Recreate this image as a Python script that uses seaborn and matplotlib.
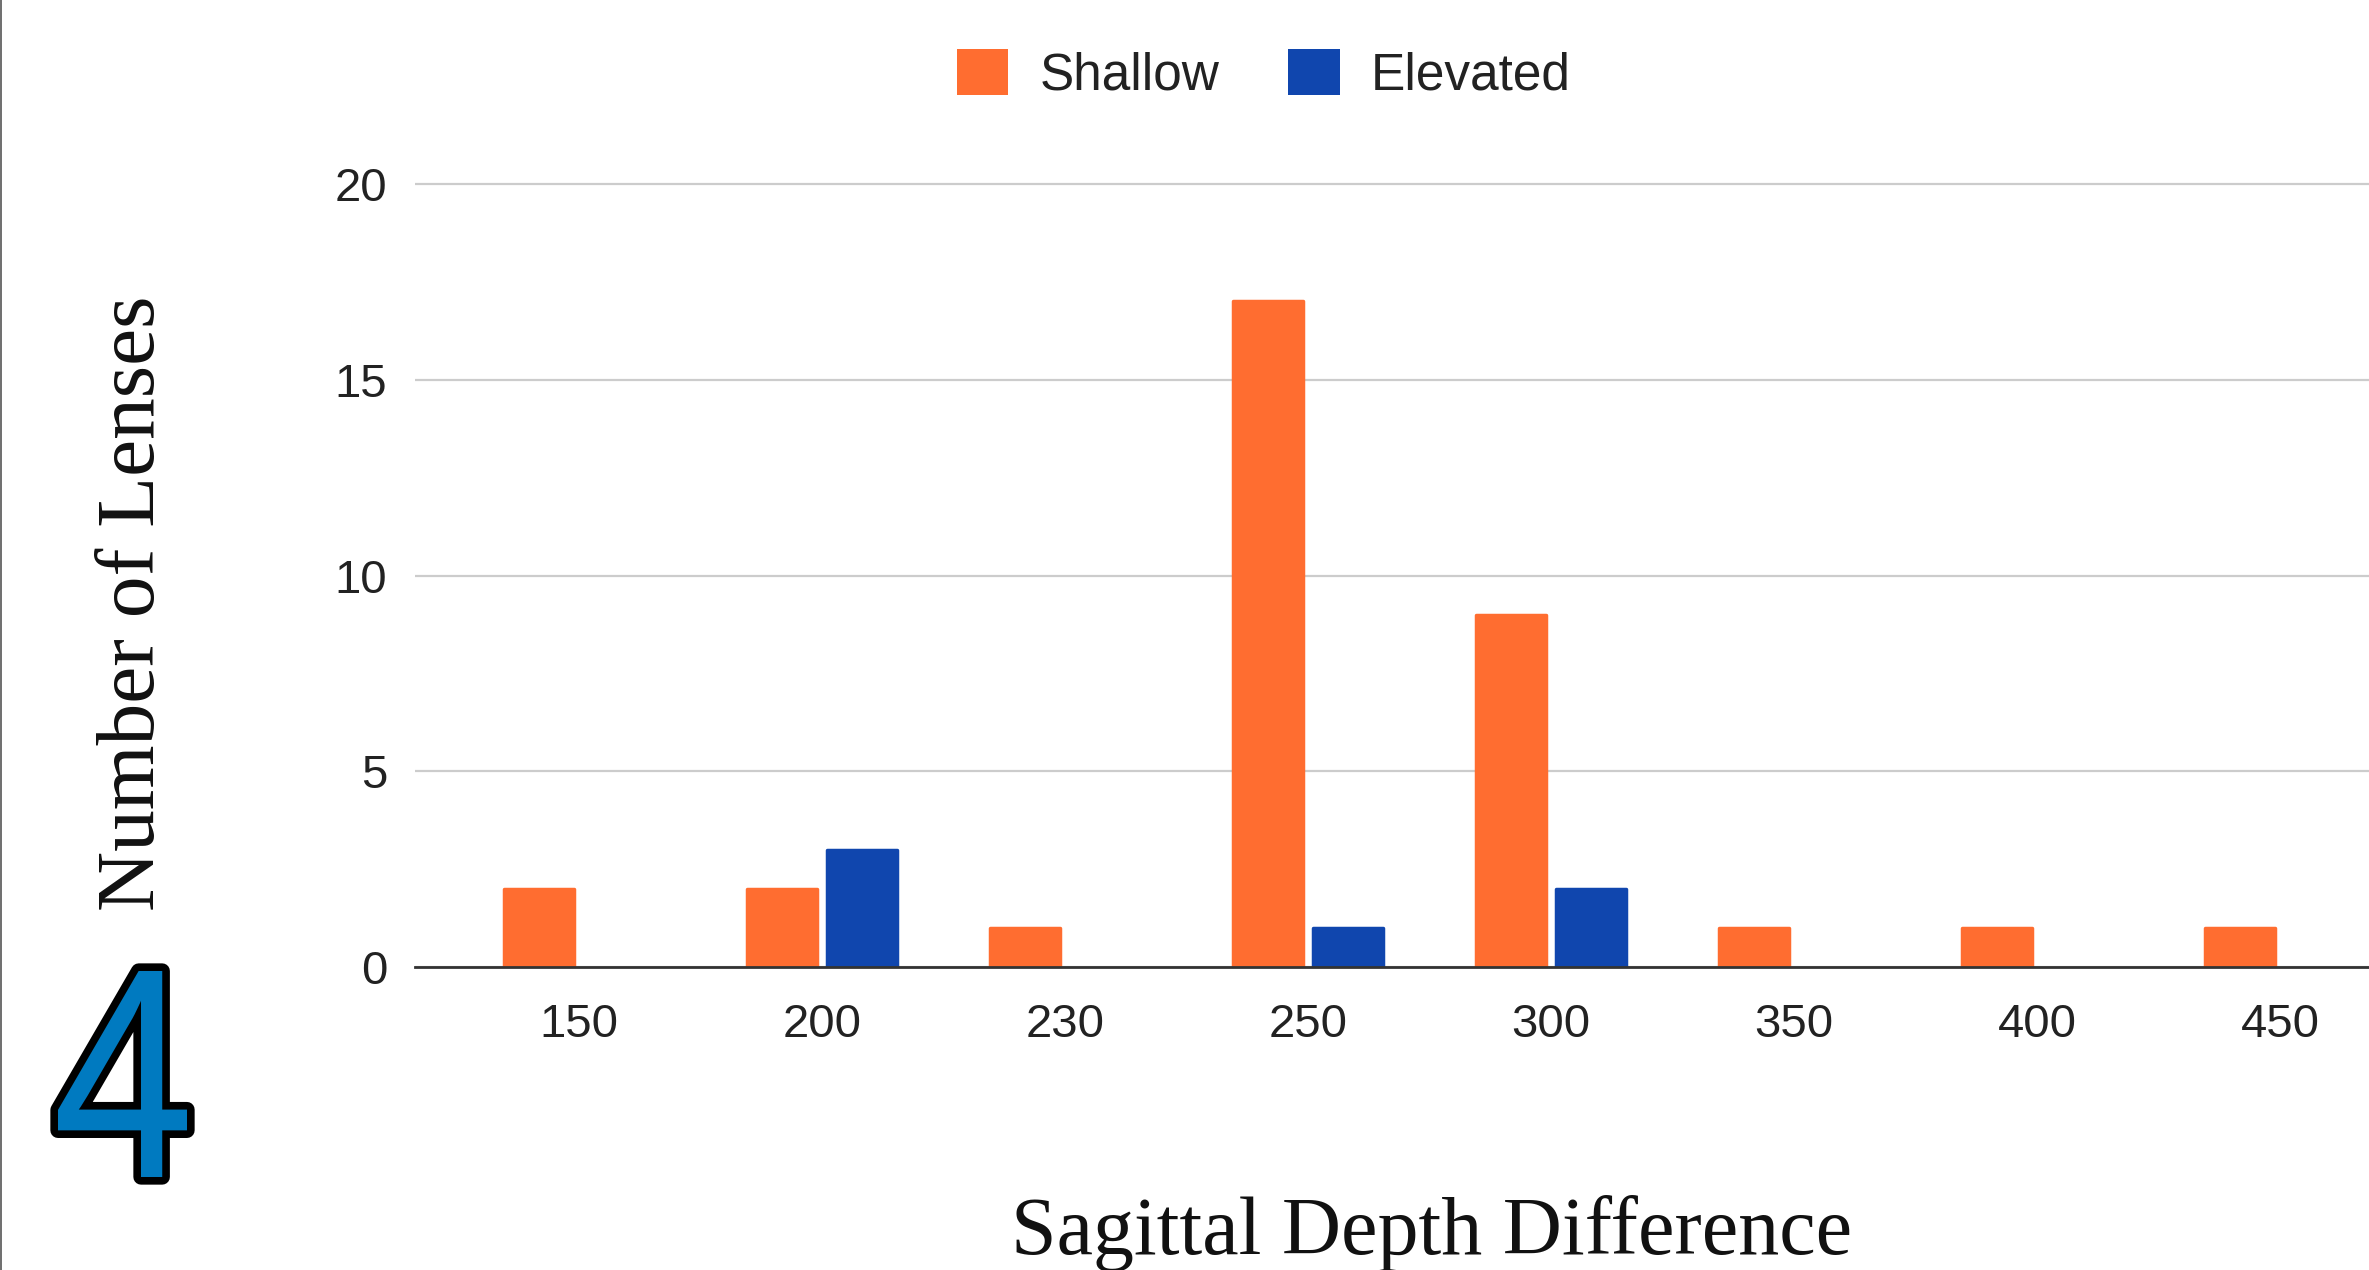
import numpy as np
import pandas as pd
import seaborn as sns
import matplotlib
matplotlib.use("Agg")
import matplotlib.pyplot as plt
import matplotlib.patheffects as pe
from matplotlib.lines import Line2D
from matplotlib.textpath import TextPath
from matplotlib.patches import PathPatch
from matplotlib.font_manager import FontProperties
from matplotlib.transforms import Affine2D

# ---- data ----
categories = ["150", "200", "230", "250", "300", "350", "400", "450"]
shallow = [2, 2, 1, 17, 9, 1, 1, 1]
elevated = [0, 3, 0, 1, 2, 0, 0, 0]
series_names = ["Shallow", "Elevated"]
colors = ["#FF6D30", "#1046AE"]
y_ticks = [0, 5, 10, 15, 20]

df = pd.DataFrame({"Depth": categories, "Shallow": shallow, "Elevated": elevated})
long = df.melt(id_vars="Depth", var_name="Type", value_name="Count")

sns.set_style("white")
plt.rcParams["font.family"] = ["Liberation Sans", "DejaVu Sans"]

W, H = 2369, 1270
fig = plt.figure(figsize=(W / 100, H / 100), dpi=100)
fig.patch.set_facecolor("white")

left_px, right_px = 415, 2369
y0_px, y20_px = 967, 184
ymax = 20.1
ax_h_px = (y0_px - y20_px) * ymax / 20
ax = fig.add_axes([left_px / W, 1 - y0_px / H, (right_px - left_px) / W, ax_h_px / H])

sns.barplot(data=long, x="Depth", y="Count", hue="Type", order=categories,
            hue_order=series_names, palette=colors, width=0.66, gap=0.12,
            saturation=1, errorbar=None, ax=ax, legend=True)

# slightly rounded bar corners
for p in ax.patches:
    if abs(p.get_height()) < 1e-9:
        p.set_linewidth(0)
    else:
        p.set_edgecolor(p.get_facecolor())
        p.set_linewidth(2.5)
        p.set_joinstyle("round")

ax.set_xlim(-0.675, 7.366)
ax.set_ylim(0, ymax)
ax.set_yticks(y_ticks)
ax.set_yticklabels([str(t) for t in y_ticks])
ax.yaxis.grid(True, color="#cccccc", linewidth=1.6)
ax.xaxis.grid(False)
ax.set_axisbelow(True)
for s in ["left", "top", "right"]:
    ax.spines[s].set_visible(False)
ax.spines["bottom"].set_color("#333333")
ax.spines["bottom"].set_linewidth(2)
ax.spines["bottom"].set_zorder(3)

ax.tick_params(axis="y", length=0, pad=20, labelsize=34, labelcolor="#222222")
ax.tick_params(axis="x", length=0, pad=26, labelsize=34, labelcolor="#222222")

serif = ["Liberation Serif", "DejaVu Serif"]
ax.set_xlabel("Sagittal Depth Difference", fontsize=59, family=serif,
              color="#111111", va="center", ha="center")
ax.xaxis.set_label_coords((1432 - left_px) / (right_px - left_px), (y0_px - 1233) / ax_h_px)
ax.set_ylabel("Number of Lenses", fontsize=60, family=serif,
              color="#111111", va="center", ha="center")
ax.yaxis.set_label_coords((134 - left_px) / (right_px - left_px), (y0_px - 603) / ax_h_px)

# legend
handles, labels = ax.get_legend_handles_labels()
ax.legend(handles, labels, loc="center", bbox_to_anchor=(0.5335, 1 - 75 / H),
          bbox_transform=fig.transFigure, ncol=2, frameon=False, fontsize=37,
          handlelength=1.0, handleheight=1.0, handletextpad=0.6,
          columnspacing=1.35, labelcolor="#222222")

# big outlined "4" (glyph outline fitted into its box, in output pixels)
tp = TextPath((0, 0), "4", size=100, prop=FontProperties(family="Liberation Sans"))
ext = tp.get_extents()
gx0, gx1 = 58, 187            # glyph ink box, px from left
gy0, gy1 = H - 1177, H - 971  # glyph ink box, px from bottom
sx = (gx1 - gx0) / ext.width
sy = (gy1 - gy0) / ext.height
tr = Affine2D().translate(-ext.x0, -ext.y0).scale(sx, sy).translate(gx0, gy0)
four = PathPatch(tp, transform=tr, facecolor="#007AC0", edgecolor="none",
                 path_effects=[pe.Stroke(linewidth=11, foreground="black",
                                         joinstyle="round"), pe.Normal()])
fig.add_artist(four)

# left border line
fig.add_artist(Line2D([0.6 / W, 0.6 / W], [0, 1], transform=fig.transFigure,
                      color="#555555", linewidth=1.2))

fig.savefig("out.png", dpi=100, facecolor="white")
